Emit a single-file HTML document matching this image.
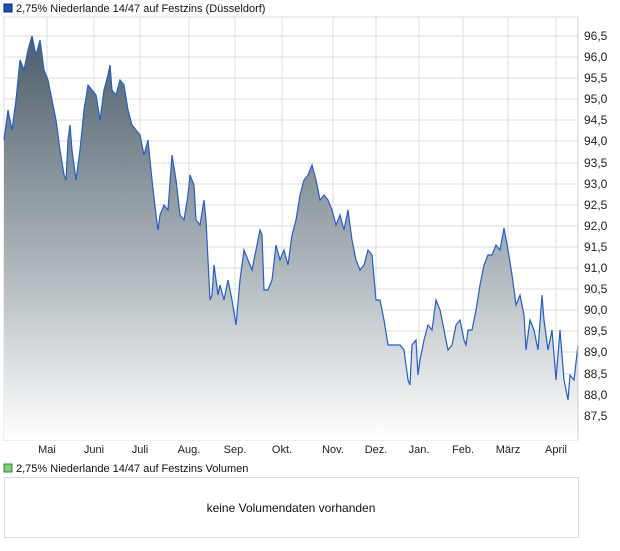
<!DOCTYPE html>
<html><head><meta charset="utf-8"><style>
body{margin:0;background:#fff;font-family:"Liberation Sans",sans-serif;}
</style></head><body>
<svg width="620" height="546" xmlns="http://www.w3.org/2000/svg" font-family="Liberation Sans, sans-serif">
<defs>
<linearGradient id="g" gradientUnits="userSpaceOnUse" x1="0" y1="36" x2="0" y2="440">
<stop offset="0" stop-color="#4d5d68"/>
<stop offset="0.55" stop-color="#aab3b8"/>
<stop offset="1" stop-color="#ffffff"/>
</linearGradient>
</defs>
<rect x="4" y="4" width="8" height="8" fill="#1f4fb0" stroke="#123070"/>
<text x="16" y="12" font-size="11" fill="#111">2,75% Niederlande 14/47 auf Festzins (Düsseldorf)</text>
<rect x="4" y="17" width="574" height="423" fill="#fff" stroke="#ddd"/>
<g stroke="#ddd" stroke-width="1">
<line x1="47" y1="17" x2="47" y2="440"/><line x1="94" y1="17" x2="94" y2="440"/><line x1="140" y1="17" x2="140" y2="440"/><line x1="189" y1="17" x2="189" y2="440"/><line x1="235" y1="17" x2="235" y2="440"/><line x1="282" y1="17" x2="282" y2="440"/><line x1="333" y1="17" x2="333" y2="440"/><line x1="376" y1="17" x2="376" y2="440"/><line x1="419" y1="17" x2="419" y2="440"/><line x1="463" y1="17" x2="463" y2="440"/><line x1="508" y1="17" x2="508" y2="440"/><line x1="556" y1="17" x2="556" y2="440"/>
<line x1="4" y1="36" x2="578" y2="36"/><line x1="4" y1="57" x2="578" y2="57"/><line x1="4" y1="78" x2="578" y2="78"/><line x1="4" y1="99" x2="578" y2="99"/><line x1="4" y1="120" x2="578" y2="120"/><line x1="4" y1="141" x2="578" y2="141"/><line x1="4" y1="163" x2="578" y2="163"/><line x1="4" y1="184" x2="578" y2="184"/><line x1="4" y1="205" x2="578" y2="205"/><line x1="4" y1="226" x2="578" y2="226"/><line x1="4" y1="247" x2="578" y2="247"/><line x1="4" y1="268" x2="578" y2="268"/><line x1="4" y1="289" x2="578" y2="289"/><line x1="4" y1="310" x2="578" y2="310"/><line x1="4" y1="331" x2="578" y2="331"/><line x1="4" y1="352" x2="578" y2="352"/><line x1="4" y1="374" x2="578" y2="374"/><line x1="4" y1="395" x2="578" y2="395"/><line x1="4" y1="416" x2="578" y2="416"/>
</g>
<path id="p" fill="url(#g)" stroke="none" d="M4,440 L4,140 8,110 12,130 16,100 20,60 24,70 28,50 32,36 36,55 40,40 44,70 48,80 52,100 56,120 60,150 64,175 66,180 68,140 70,125 72,150 76,180 80,150 84,110 88,85 92,90 96,95 100,120 104,90 108,75 110,65 112,90 116,95 120,80 124,85 128,110 132,125 136,130 140,135 144,155 148,140 152,180 156,215 158,230 160,215 164,205 168,210 172,155 176,180 180,215 184,220 188,195 190,175 194,185 196,220 200,225 204,200 206,220 208,260 210,300 212,295 214,265 216,280 218,295 220,285 224,300 228,280 232,300 236,325 240,280 244,250 248,260 252,270 256,250 260,230 262,235 264,290 268,290 272,280 276,245 280,260 284,250 288,265 292,235 296,220 300,195 304,180 308,175 312,165 316,180 320,200 324,195 328,200 332,210 336,225 340,215 344,230 348,210 352,240 356,260 360,270 364,265 368,250 372,255 376,300 380,300 384,320 388,345 392,345 396,345 400,345 404,350 408,380 410,385 412,345 416,340 418,375 420,360 424,340 428,325 432,330 436,300 440,310 444,330 448,350 452,345 456,325 460,320 464,340 466,345 468,330 472,330 476,310 480,285 484,265 488,255 492,255 496,245 500,250 504,228 508,250 512,275 516,305 520,295 524,315 526,350 530,320 534,330 538,350 542,295 544,320 548,350 552,330 556,380 560,330 564,380 568,400 570,375 574,380 578,345 L578,440 Z"/>
<polyline fill="none" stroke="#1f5fd0" stroke-width="1.2" points="4,140 8,110 12,130 16,100 20,60 24,70 28,50 32,36 36,55 40,40 44,70 48,80 52,100 56,120 60,150 64,175 66,180 68,140 70,125 72,150 76,180 80,150 84,110 88,85 92,90 96,95 100,120 104,90 108,75 110,65 112,90 116,95 120,80 124,85 128,110 132,125 136,130 140,135 144,155 148,140 152,180 156,215 158,230 160,215 164,205 168,210 172,155 176,180 180,215 184,220 188,195 190,175 194,185 196,220 200,225 204,200 206,220 208,260 210,300 212,295 214,265 216,280 218,295 220,285 224,300 228,280 232,300 236,325 240,280 244,250 248,260 252,270 256,250 260,230 262,235 264,290 268,290 272,280 276,245 280,260 284,250 288,265 292,235 296,220 300,195 304,180 308,175 312,165 316,180 320,200 324,195 328,200 332,210 336,225 340,215 344,230 348,210 352,240 356,260 360,270 364,265 368,250 372,255 376,300 380,300 384,320 388,345 392,345 396,345 400,345 404,350 408,380 410,385 412,345 416,340 418,375 420,360 424,340 428,325 432,330 436,300 440,310 444,330 448,350 452,345 456,325 460,320 464,340 466,345 468,330 472,330 476,310 480,285 484,265 488,255 492,255 496,245 500,250 504,228 508,250 512,275 516,305 520,295 524,315 526,350 530,320 534,330 538,350 542,295 544,320 548,350 552,330 556,380 560,330 564,380 568,400 570,375 574,380 578,345"/>
<line x1="578" y1="17" x2="578" y2="440" stroke="#ccc"/>
<g font-size="12" fill="#222">
<text x="584" y="40">96,5</text><text x="584" y="61">96,0</text><text x="584" y="82">95,5</text><text x="584" y="103">95,0</text><text x="584" y="124">94,5</text><text x="584" y="145">94,0</text><text x="584" y="167">93,5</text><text x="584" y="188">93,0</text><text x="584" y="209">92,5</text><text x="584" y="230">92,0</text><text x="584" y="251">91,5</text><text x="584" y="272">91,0</text><text x="584" y="293">90,5</text><text x="584" y="314">90,0</text><text x="584" y="335">89,5</text><text x="584" y="356">89,0</text><text x="584" y="378">88,5</text><text x="584" y="399">88,0</text><text x="584" y="420">87,5</text>
</g>
<g font-size="11" fill="#222" text-anchor="middle">
<text x="47" y="453">Mai</text><text x="94" y="453">Juni</text><text x="140" y="453">Juli</text><text x="189" y="453">Aug.</text><text x="235" y="453">Sep.</text><text x="282" y="453">Okt.</text><text x="333" y="453">Nov.</text><text x="376" y="453">Dez.</text><text x="419" y="453">Jan.</text><text x="463" y="453">Feb.</text><text x="508" y="453">März</text><text x="556" y="453">April</text>
</g>
<rect x="4" y="464" width="8" height="8" fill="#7ccf7c" stroke="#3a8a3a"/>
<text x="16" y="472" font-size="11" fill="#111">2,75% Niederlande 14/47 auf Festzins Volumen</text>
<rect x="4.5" y="477.5" width="574" height="60" fill="#fff" stroke="#ddd"/>
<text x="291" y="512" font-size="12" fill="#111" text-anchor="middle">keine Volumendaten vorhanden</text>
</svg>
</body></html>
